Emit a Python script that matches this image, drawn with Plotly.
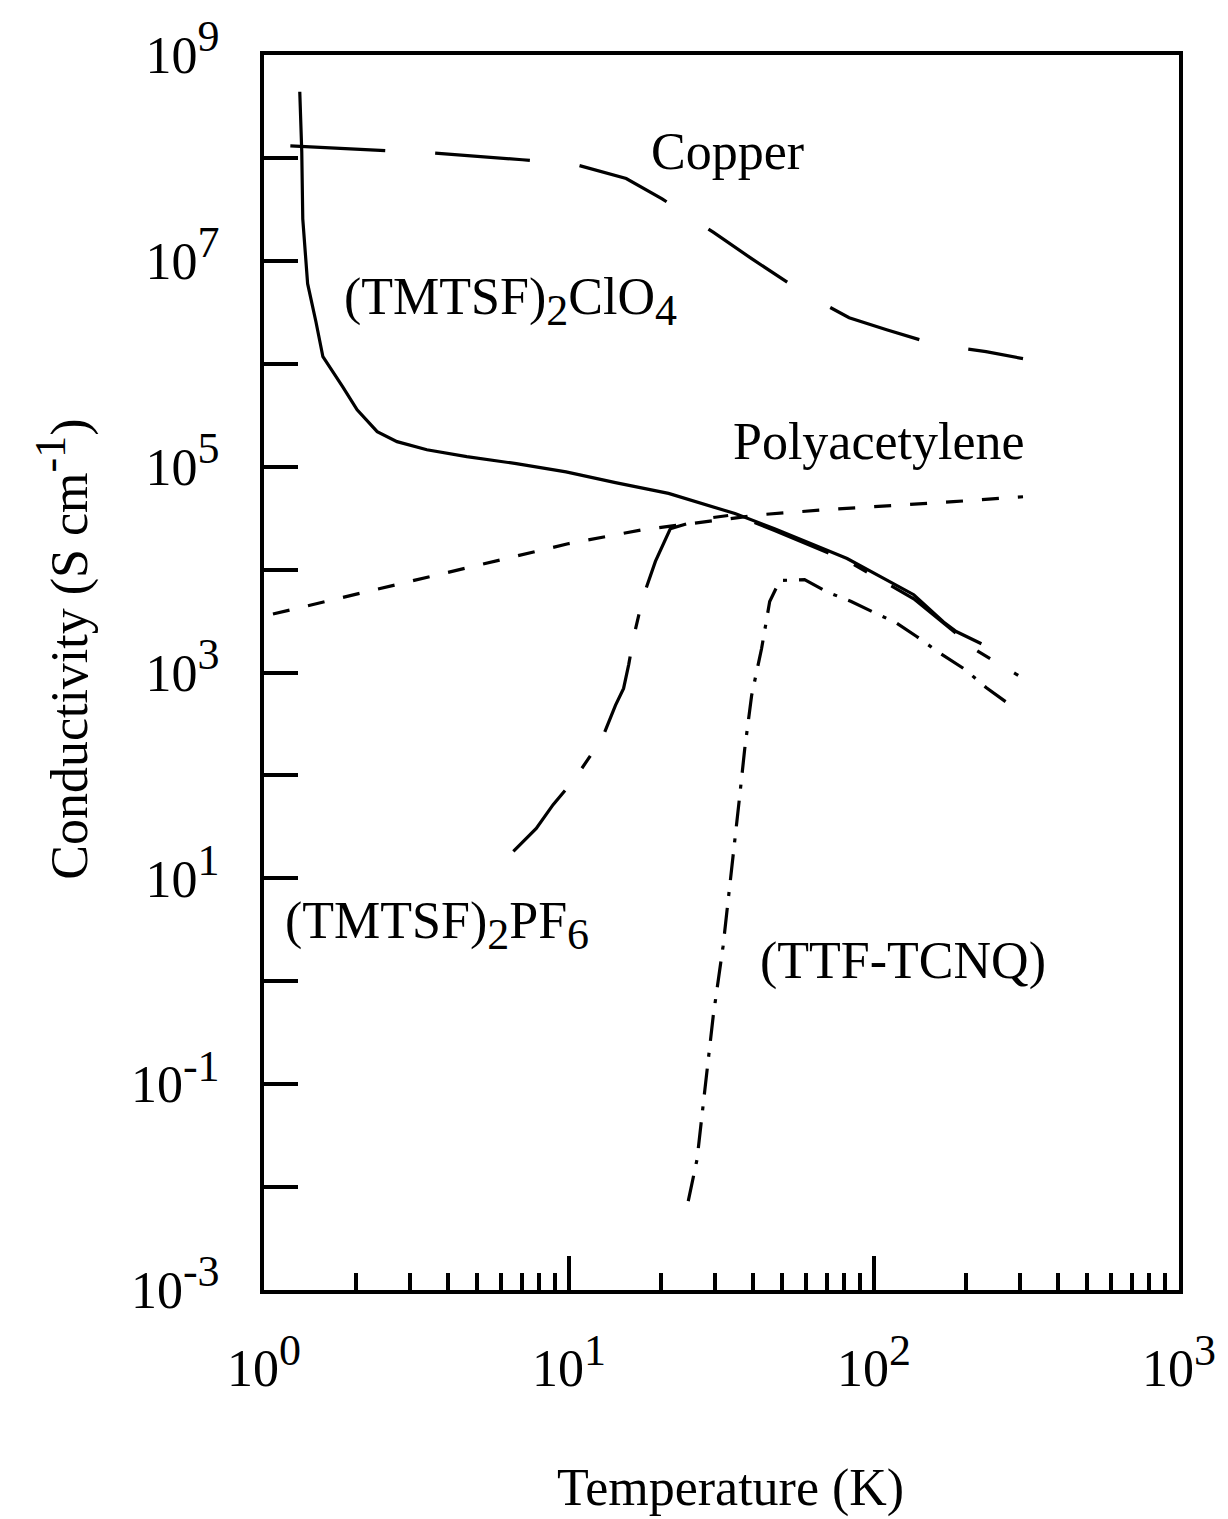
import plotly.graph_objects as go

# ---------------- data ----------------
copper_T = [1.22, 2.44, 3.55, 7.03, 10.4, 15.4, 20.2, 29.7, 39.7, 59.2, 82.9, 110, 160, 233, 308]
copper_sigma = [1.31e8, 1.17e8, 1.12e8, 9.6e7, 8.7e7, 6.3e7, 4.0e7, 1.9e7, 1.05e7, 4.8e6,
                2.8e6, 2.14e6, 1.53e6, 1.31e6, 1.12e6]

clo4_T = [1.31, 1.33, 1.34, 1.39, 1.48, 1.56, 1.81, 2.02, 2.35, 2.73, 3.42, 4.62, 6.72, 9.78,
          14.2, 21.2, 35.0, 47.2, 81.6, 135, 169, 186, 225]
clo4_sigma = [4.4e8, 1.14e8, 2.56e7, 6.0e6, 2.56e6, 1.17e6, 6.0e5, 3.57e5, 2.19e5, 1.75e5,
              1.46e5, 1.25e5, 1.07e5, 8.9e4, 7.0e4, 5.5e4, 3.5e4, 2.5e4, 1.28e4, 5.7e3,
              3.1e3, 2.5e3, 1.9e3]

pa_T = [1.07, 3.17, 10, 17.4, 28.6, 42.9, 70.3, 119, 182, 308]
pa_sigma = [3.7e3, 8.0e3, 1.79e4, 2.44e4, 2.92e4, 3.42e4, 3.83e4, 4.2e4, 4.57e4, 5.1e4]

pf6_T = [6.57, 7.81, 8.87, 10.4, 12.2, 13.0, 14.2, 15.1, 15.7, 16.3, 17.2, 17.7, 19.2, 21.5,
         27.9, 35.0, 47.2, 81.6, 135, 186, 212, 297]
pf6_sigma = [18.3, 30.5, 52, 91, 183, 250, 479, 700, 1200, 2240, 4380, 6000, 1.2e4, 2.5e4,
             3.13e4, 3.42e4, 2.39e4, 1.22e4, 5.2e3, 2.4e3, 1.71e3, 936]

ttf_T = [24.6, 26.3, 27.9, 29.7, 32.0, 34.2, 36.3, 37.7, 39.7, 42.8, 45.5, 49.1, 59.2, 69.8,
         84.2, 98.5, 118, 138, 165, 199, 233, 290]
ttf_sigma = [7.3e-3, 0.0187, 0.089, 0.457, 2.19, 12.0, 64, 183, 598, 1710, 4890, 7820, 8000,
             6110, 4890, 3910, 3050, 2240, 1530, 1070, 714, 447]

x_major_exp = [0, 1, 2, 3]
x_minor_mult = [2, 3, 4, 5, 6, 7, 8, 9]
y_label_exp = [-3, -1, 1, 3, 5, 7, 9]
y_unlabeled_exp = [-2, 0, 2, 4, 6, 8]

FONT = "Liberation Serif, Times New Roman, serif"
SUPSIZE = 44


def sup(s):
    return '<sup><span style="font-size:%dpx">%s</span></sup>' % (SUPSIZE, s)


def sub(s):
    return '<sub><span style="font-size:%dpx">%s</span></sub>' % (SUPSIZE, s)


x_tickvals = [10.0 ** e for e in x_major_exp]
x_ticktext = ["10" + sup(str(e)) for e in x_major_exp]
x_minor = [m * 10.0 ** d for d in (0, 1, 2) for m in x_minor_mult]
y_tickvals = [10.0 ** e for e in y_label_exp]
y_ticktext = ["10" + sup(str(e)) for e in y_label_exp]
y_minor = [10.0 ** e for e in y_unlabeled_exp]

# ---------------- figure ----------------
fig = go.Figure()

line_w = 3.2
fig.add_trace(go.Scatter(x=copper_T, y=copper_sigma, mode="lines",
                         line=dict(color="black", width=line_w, dash="95px,50px")))
fig.add_trace(go.Scatter(x=clo4_T, y=clo4_sigma, mode="lines",
                         line=dict(color="black", width=line_w)))
fig.add_trace(go.Scatter(x=pa_T, y=pa_sigma, mode="lines",
                         line=dict(color="black", width=line_w, dash="17px,19px")))
fig.add_trace(go.Scatter(x=pf6_T, y=pf6_sigma, mode="lines",
                         line=dict(color="black", width=line_w, dash="80px,28px,15px,28px")))
fig.add_trace(go.Scatter(x=ttf_T, y=ttf_sigma, mode="lines",
                         line=dict(color="black", width=line_w, dash="26px,12px,4px,12px")))

fig.update_layout(
    width=1228, height=1519,
    margin=dict(l=264, r=41, t=53, b=229),
    paper_bgcolor="white", plot_bgcolor="white",
    showlegend=False,
    font=dict(family=FONT, size=50, color="black"),
)

fig.update_xaxes(
    type="log", range=[0, 3],
    tickvals=x_tickvals, ticktext=x_ticktext,
    ticks="inside", ticklen=34, tickwidth=4, tickcolor="black",
    minor=dict(tickvals=x_minor, ticks="inside", ticklen=17, tickwidth=4, tickcolor="black",
               showgrid=False),
    showline=True, linewidth=4, linecolor="black", mirror=True,
    showgrid=False, zeroline=False,
    ticklabelstandoff=30,
    tickfont=dict(family=FONT, size=52, color="black"),
)
fig.update_yaxes(
    type="log", range=[-3, 9],
    tickvals=y_tickvals, ticktext=y_ticktext,
    ticks="inside", ticklen=34, tickwidth=4, tickcolor="black",
    minor=dict(tickvals=y_minor, ticks="inside", ticklen=34, tickwidth=4, tickcolor="black",
               showgrid=False),
    showline=True, linewidth=4, linecolor="black", mirror=True,
    showgrid=False, zeroline=False,
    ticklabelstandoff=30,
    tickfont=dict(family=FONT, size=52, color="black"),
)


def label(text, px, py, anchor="left"):
    fig.add_annotation(text=text, xref="paper", yref="paper",
                       x=(px - 264) / 923, y=(1290 - py) / 1237,
                       xanchor=anchor, yanchor="middle", showarrow=False,
                       font=dict(family=FONT, size=52, color="black"))


label("Copper", 652, 150)
label("(TMTSF)" + sub("2") + "ClO" + sub("4"), 343, 300)
label("Polyacetylene", 735, 440)
label("(TMTSF)" + sub("2") + "PF" + sub("6"), 283, 925)
label("(TTF-TCNQ)", 762, 960)

# axis titles
fig.add_annotation(text="Temperature (K)", xref="paper", yref="paper",
                   x=(735 - 264) / 923, y=-(1488 - 1290) / 1237,
                   xanchor="center", yanchor="middle", showarrow=False,
                   font=dict(family=FONT, size=52, color="black"))
fig.add_annotation(text="Conductivity (S cm" + sup("-1") + ")", xref="paper", yref="paper",
                   x=(60 - 264) / 923, y=(1290 - 648) / 1237, textangle=-90,
                   xanchor="center", yanchor="middle", showarrow=False,
                   font=dict(family=FONT, size=52, color="black"))

fig.write_html("out.html")
